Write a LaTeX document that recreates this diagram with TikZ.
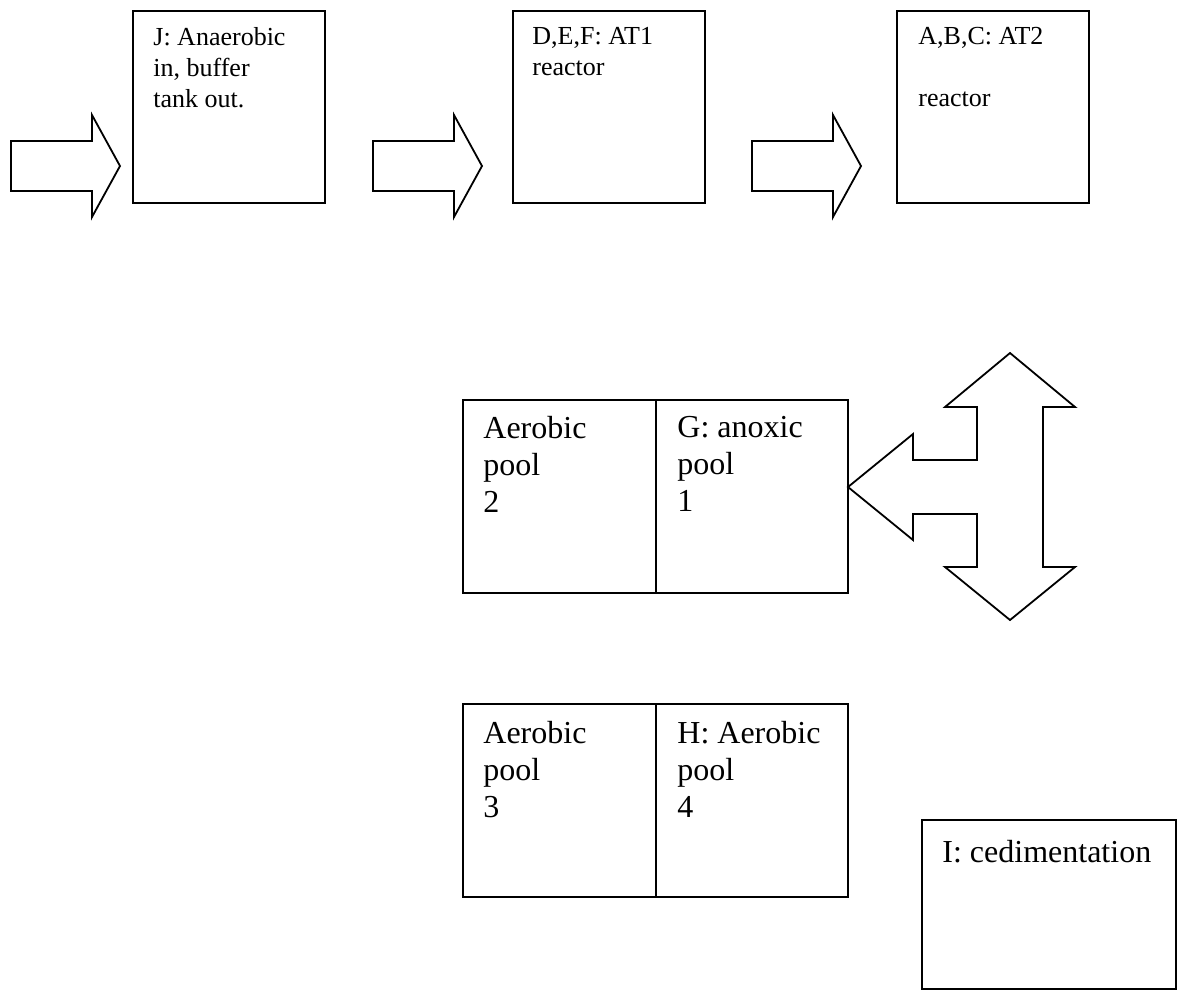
\documentclass[tikz,border=0pt]{standalone}
\usepackage{fontspec}
\setmainfont{Liberation Serif}
\usetikzlibrary{positioning}

\begin{document}
\begin{tikzpicture}[
    x=0.5pt, y=-0.5pt,
    tank/.style={
        rectangle, draw=black, line width=0.9pt,
        inner sep=0pt, outer sep=0pt
    },
    reactor/.style={tank, minimum width=96pt, minimum height=96pt},
    pool/.style={tank, minimum height=96.5pt},
    toplabel/.style={
        font=\fontsize{13}{15.5}\selectfont,
        align=left, anchor=north west, inner sep=0pt
    },
    poollabel/.style={
        font=\fontsize{16}{18.5}\selectfont,
        align=left, anchor=north west, inner sep=0pt
    },
    flow/.style={draw=black, line width=0.9pt, line join=miter},
]

\useasboundingbox (0,0) rectangle (1186,992);

% Reattori in alto
\node[reactor, anchor=north west] (J)   at (133,11) {};
\node[reactor, anchor=north west] (DEF) at (513,11) {};
\node[reactor, anchor=north west] (ABC) at (897,11) {};

\node[toplabel] (Jtext)   at ([shift={(20,16)}]J.north west)
    {J: Anaerobic\\in, buffer\\tank out.};
\node[toplabel] (DEFtext) at ([shift={(19,16)}]DEF.north west)
    {D,E,F: AT1\\reactor};
\node[toplabel] (ABCtext) at ([shift={(21,16)}]ABC.north west)
    {A,B,C: AT2\\\mbox{}\\reactor};

% Frecce di flusso
\foreach \ax in {11,373,752}
    \draw[flow] (\ax,141) -- ++(81,0) -- ++(0,-26) -- ++(28,51)
        -- ++(-28,51) -- ++(0,-26) -- ++(-81,0) -- cycle;

% Vasche
\node[pool, minimum width=96.5pt, anchor=north west] (pool2) at (463,400) {};
\node[pool, minimum width=96pt, right=0pt of pool2] (pool1) {};
\node[pool, minimum width=96.5pt, anchor=north west] (pool3) at (463,704) {};
\node[pool, minimum width=96pt, right=0pt of pool3] (pool4) {};

\node[poollabel] (pool2text) at ([shift={(20,16)}]pool2.north west)
    {Aerobic\\pool\\2};
\node[poollabel] (pool1text) at ([shift={(21,16)}]pool1.north west)
    {G: anoxic\\pool\\1};
\node[poollabel] (pool3text) at ([shift={(20,17)}]pool3.north west)
    {Aerobic\\pool\\3};
\node[poollabel] (pool4text) at ([shift={(21,17)}]pool4.north west)
    {H: Aerobic\\pool\\4};

% Sedimentazione
\node[tank, minimum width=127pt, minimum height=84.5pt, anchor=north west]
    (sed) at (922,820) {};
\node[poollabel] (sedtext) at ([shift={(20,20)}]sed.north west)
    {I: cedimentation};

% Freccia a tre vie
\draw[flow] (pool1.east |- 0,487) -- (913,434) -- (913,460) -- (977,460)
    -- (977,407) -- (945,407) -- (1010,353) -- (1075,407) -- (1043,407)
    -- (1043,567) -- (1075,567) -- (1010,620) -- (945,567) -- (977,567)
    -- (977,514) -- (913,514) -- (913,540) -- cycle;

\end{tikzpicture}
\end{document}
